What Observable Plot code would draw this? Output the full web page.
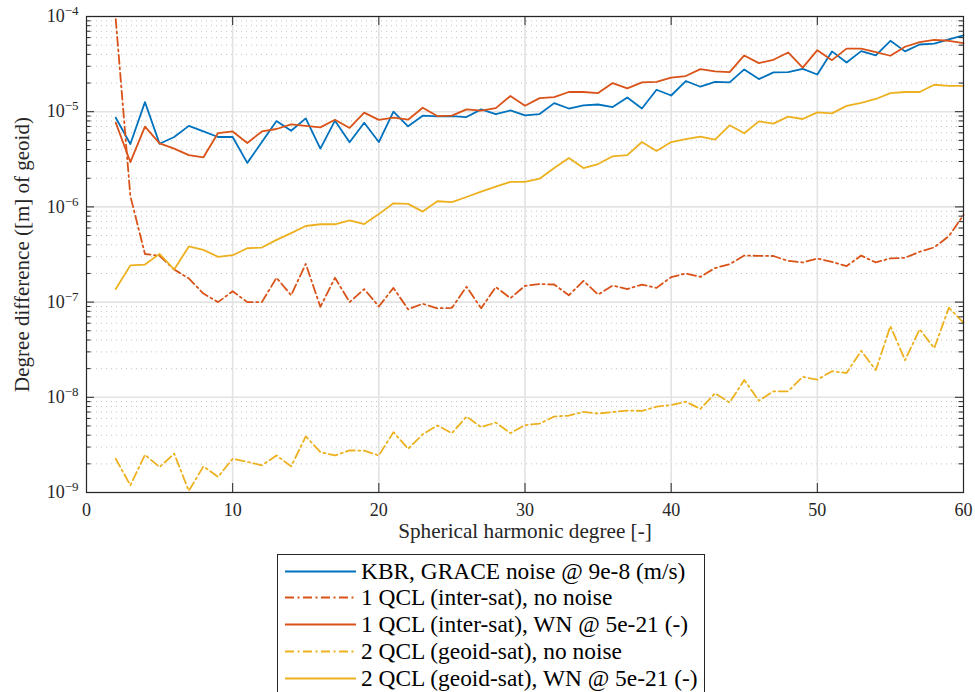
<!DOCTYPE html>
<html><head><meta charset="utf-8">
<script src="https://cdn.jsdelivr.net/npm/d3@7"></script>
<script src="https://cdn.jsdelivr.net/npm/@observablehq/plot@0.6"></script>
<style>
body{margin:0;background:#fff;}
#wrap{position:relative;width:975px;height:692px;overflow:hidden;font-family:"Liberation Serif",serif;background:#fff;}
#legend{position:absolute;left:277px;top:554px;width:428px;height:140px;border:1px solid #262626;box-sizing:border-box;background:#fff;}
.row{position:absolute;left:0;height:27px;display:flex;align-items:center;font-size:23.4px;color:#000;white-space:nowrap;}
.row svg{margin-left:7px;margin-right:5px;flex:none;}
</style></head>
<body><div id="wrap"><div id="chart"></div><div id="legend"></div></div>
<script>
const degrees = [2,3,4,5,6,7,8,9,10,11,12,13,14,15,16,17,18,19,20,21,22,23,24,25,26,27,28,29,30,31,32,33,34,35,36,37,38,39,40,41,42,43,44,45,46,47,48,49,50,51,52,53,54,55,56,57,58,59,60];

const kbrGrace = [8.65e-6,4.58e-6,1.26e-5,4.6e-6,5.42e-6,7.1e-6,6.2e-6,5.42e-6,5.42e-6,2.9e-6,4.8e-6,7.97e-6,6.3e-6,8.5e-6,4.1e-6,8.05e-6,4.77e-6,7.67e-6,4.8e-6,
  1.0e-5,7.02e-6,9.08e-6,8.93e-6,9.0e-6,8.79e-6,1.057e-5,9.45e-6,1.03e-5,9.15e-6,9.45e-6,1.23e-5,1.08e-5,1.165e-5,1.19e-5,1.12e-5,1.41e-5,1.08e-5,1.70e-5,1.48e-5,
  2.1e-5,1.83e-5,2.06e-5,2.03e-5,2.78e-5,2.2e-5,2.59e-5,2.6e-5,2.82e-5,2.46e-5,4.3e-5,3.29e-5,4.33e-5,3.9e-5,5.56e-5,4.3e-5,5.08e-5,5.2e-5,5.74e-5,6.32e-5];

const qcl1NoNoise = [9.4e-5,1.3e-6,3.2e-7,3.06e-7,2.2e-7,1.77e-7,1.23e-7,1.0e-7,1.3e-7,1.0e-7,1.0e-7,1.8e-7,1.18e-7,2.52e-7,8.9e-8,1.8e-7,1.0e-7,1.37e-7,9.0e-8,
  1.41e-7,8.4e-8,9.6e-8,8.6e-8,8.7e-8,1.45e-7,8.6e-8,1.44e-7,1.1e-7,1.48e-7,1.55e-7,1.53e-7,1.18e-7,1.67e-7,1.2e-7,1.49e-7,1.37e-7,1.53e-7,1.41e-7,1.83e-7,
  2.0e-7,1.84e-7,2.28e-7,2.5e-7,3.08e-7,3.06e-7,3.05e-7,2.71e-7,2.61e-7,2.87e-7,2.65e-7,2.39e-7,3.08e-7,2.61e-7,2.88e-7,2.92e-7,3.38e-7,3.76e-7,4.93e-7,8.2e-7];

const qcl1WN = [7.67e-6,2.96e-6,6.96e-6,4.65e-6,4.1e-6,3.5e-6,3.32e-6,5.97e-6,6.2e-6,4.69e-6,6.2e-6,6.58e-6,7.36e-6,7.1e-6,6.85e-6,8.24e-6,6.75e-6,9.77e-6,8.2e-6,
  8.65e-6,8.24e-6,1.10e-5,9.0e-6,9.08e-6,1.057e-5,1.025e-5,1.09e-5,1.46e-5,1.156e-5,1.39e-5,1.42e-5,1.61e-5,1.61e-5,1.57e-5,2.0e-5,1.76e-5,2.03e-5,2.06e-5,2.28e-5,
  2.37e-5,2.8e-5,2.65e-5,2.6e-5,3.9e-5,3.24e-5,3.51e-5,4.19e-5,2.9e-5,4.43e-5,3.48e-5,4.6e-5,4.6e-5,4.23e-5,3.87e-5,4.81e-5,5.38e-5,5.69e-5,5.56e-5,5.25e-5];

const qcl2NoNoise = [2.26e-9,1.19e-9,2.49e-9,1.85e-9,2.56e-9,1.04e-9,1.88e-9,1.46e-9,2.26e-9,2.1e-9,1.93e-9,2.45e-9,1.88e-9,3.88e-9,2.66e-9,2.45e-9,2.77e-9,2.75e-9,2.45e-9,
  4.3e-9,2.88e-9,4.07e-9,5.06e-9,4.2e-9,6.28e-9,4.86e-9,5.43e-9,4.2e-9,5.1e-9,5.3e-9,6.28e-9,6.43e-9,7.03e-9,6.75e-9,7.0e-9,7.26e-9,7.2e-9,7.98e-9,8.3e-9,
  9.0e-9,7.55e-9,1.1e-8,8.8e-9,1.52e-8,9.2e-9,1.156e-8,1.156e-8,1.64e-8,1.53e-8,1.88e-8,1.8e-8,3.08e-8,1.93e-8,5.6e-8,2.45e-8,5.18e-8,3.28e-8,8.73e-8,6.08e-8];

const qcl2WN = [1.37e-7,2.43e-7,2.48e-7,3.21e-7,2.2e-7,3.84e-7,3.54e-7,2.99e-7,3.11e-7,3.68e-7,3.74e-7,4.5e-7,5.3e-7,6.3e-7,6.57e-7,6.57e-7,7.2e-7,6.6e-7,8.4e-7,
  1.09e-6,1.075e-6,8.93e-7,1.146e-6,1.12e-6,1.27e-6,1.45e-6,1.63e-6,1.83e-6,1.83e-6,1.98e-6,2.56e-6,3.26e-6,2.56e-6,2.82e-6,3.4e-6,3.5e-6,4.8e-6,3.87e-6,4.8e-6,
  5.16e-6,5.47e-6,5.1e-6,7.2e-6,5.93e-6,7.92e-6,7.5e-6,8.87e-6,8.38e-6,9.84e-6,9.6e-6,1.15e-5,1.24e-5,1.36e-5,1.57e-5,1.61e-5,1.61e-5,1.92e-5,1.87e-5,1.87e-5];

const seriesNames = ["KBR, GRACE noise @ 9e-8 (m/s)","1 QCL (inter-sat), no noise","1 QCL (inter-sat), WN @ 5e-21 (-)","2 QCL (geoid-sat), no noise","2 QCL (geoid-sat), WN @ 5e-21 (-)"];
const seriesValues = [kbrGrace, qcl1NoNoise, qcl1WN, qcl2NoNoise, qcl2WN];
const seriesColors = ["#0072BD","#D95319","#D95319","#EDB120","#EDB120"];
const seriesDash = [null,"9,3.5,2,3.5",null,"9,3.5,2,3.5",null];

const xTicks = [0,10,20,30,40,50,60];
const xGrid = [10,20,30,40,50];
const decades = [1e-9,1e-8,1e-7,1e-6,1e-5,1e-4];
const minors = [];
for (const d of [1e-9,1e-8,1e-7,1e-6,1e-5]) for (const m of [2,3,4,5,6,7,8,9]) minors.push(d*m);

const W = 975, H = 550, mL = 86, mR = 12, mT = 16, mB = 58;
const iW = W - mL - mR, iH = H - mT - mB;
const axisColor = "#262626";

const lineMarks = seriesNames.map((name, i) =>
  Plot.line(degrees.map((d, j) => ({degree: d, value: seriesValues[i][j]})), {
    x: "degree", y: "value", stroke: seriesColors[i], strokeWidth: 1.8,
    strokeDasharray: seriesDash[i] || undefined, strokeLinejoin: "round"
  })
);

const chart = Plot.plot({
  width: W, height: H,
  marginLeft: mL, marginRight: mR, marginTop: mT, marginBottom: mB,
  style: {fontFamily: '"Liberation Serif", serif', fontSize: "18px", color: axisColor, background: "#fff", overflow: "visible"},
  x: {domain: [0, 60]},
  y: {type: "log", domain: [1e-9, 1e-4]},
  marks: [
    Plot.ruleY(minors, {stroke: "#c4c4c4", strokeWidth: 1, strokeDasharray: "1,4"}),
    Plot.ruleY(decades, {stroke: "#e3e3e3", strokeWidth: 1.6}),
    Plot.ruleX(xGrid, {stroke: "#e3e3e3", strokeWidth: 1.6}),
    ...lineMarks,
    Plot.frame({stroke: axisColor, strokeWidth: 1.2}),
    Plot.ruleY(decades, {stroke: axisColor, insetRight: iW - 8}),
    Plot.ruleY(decades, {stroke: axisColor, insetLeft: iW - 8}),
    Plot.ruleY(minors, {stroke: axisColor, insetRight: iW - 4.5}),
    Plot.ruleY(minors, {stroke: axisColor, insetLeft: iW - 4.5}),
    Plot.ruleX(xGrid, {stroke: axisColor, insetTop: iH - 9}),
    Plot.ruleX(xGrid, {stroke: axisColor, insetBottom: iH - 9}),
    Plot.axisX({ticks: xTicks, tickSize: 0, tickPadding: 11, label: null, tickFormat: d => String(d)}),
    Plot.axisY({ticks: decades, tickSize: 0, tickPadding: 8, label: null, tickFormat: d => "10^" + Math.round(Math.log10(d))}),
    Plot.text(["Spherical harmonic degree [-]"], {text: d => d, frameAnchor: "bottom", textAnchor: "middle", dy: 45, fontSize: 21.2, fill: axisColor}),
    Plot.text(["Degree difference ([m] of geoid)"], {text: d => d, frameAnchor: "left", textAnchor: "middle", dx: -64, rotate: -90, fontSize: 21, fill: axisColor})
  ]
});

// superscript exponents on the log-axis tick labels
const NS = "http://www.w3.org/2000/svg";
chart.querySelectorAll('g[aria-label="y-axis tick label"] text').forEach(t => {
  const s = t.textContent;
  if (!s.startsWith("10^")) return;
  const exp = s.slice(3).replace("-", "\u2212");
  t.textContent = "";
  const base = document.createElementNS(NS, "tspan");
  base.textContent = "10";
  const sup = document.createElementNS(NS, "tspan");
  sup.setAttribute("dy", "-0.55em");
  sup.setAttribute("font-size", "13px");
  sup.textContent = exp;
  t.appendChild(base); t.appendChild(sup);
});

document.getElementById("chart").appendChild(chart);

// legend
const legend = document.getElementById("legend");
const rowCenters = [16, 42.7, 69.5, 96.5, 123.5];
seriesNames.forEach((name, i) => {
  const row = document.createElement("div");
  row.className = "row";
  row.style.top = (rowCenters[i] - 13.5) + "px";
  const sw = document.createElementNS(NS, "svg");
  sw.setAttribute("width", 71); sw.setAttribute("height", 27);
  const ln = document.createElementNS(NS, "line");
  ln.setAttribute("x1", 0); ln.setAttribute("x2", 71);
  ln.setAttribute("y1", 13.5); ln.setAttribute("y2", 13.5);
  ln.setAttribute("stroke", seriesColors[i]); ln.setAttribute("stroke-width", 1.8);
  if (seriesDash[i]) ln.setAttribute("stroke-dasharray", seriesDash[i]);
  sw.appendChild(ln);
  const tx = document.createElement("span");
  tx.textContent = name;
  row.appendChild(sw); row.appendChild(tx);
  legend.appendChild(row);
});
</script></body></html>
